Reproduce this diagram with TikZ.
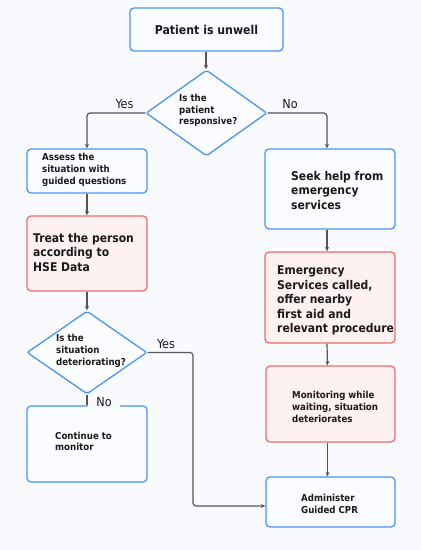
\documentclass[tikz,border=0pt]{standalone}
\usepackage{fontspec}
\setmainfont{DejaVu Sans Condensed}
\usetikzlibrary{shapes.geometric,arrows.meta}
\definecolor{bg}{HTML}{F8FAFD}
\definecolor{bblue}{HTML}{4C94F2}
\definecolor{fblue}{HTML}{FBFCFF}
\definecolor{bred}{HTML}{F26B6B}
\definecolor{fred}{HTML}{FDF1F1}
\definecolor{ln}{HTML}{555555}
\definecolor{tx}{HTML}{1A1A1A}
\tikzset{
  bluebox/.style={draw=bblue,fill=fblue,line width=1.3pt,rounded corners=4pt,inner sep=0pt},
  redbox/.style={draw=bred,fill=fred,line width=1.3pt,rounded corners=4pt,inner sep=0pt},
  decision/.style={diamond,draw=bblue,fill=fblue,line width=1.3pt,rounded corners=2pt,inner sep=0pt},
  big/.style={font=\bfseries\fontsize{12}{14.6}\selectfont,text=tx,align=left,inner sep=0pt,anchor=west},
  small/.style={font=\bfseries\fontsize{9.6}{11.8}\selectfont,text=tx,align=left,inner sep=0pt,anchor=west},
  yn/.style={font=\fontsize{12.5}{14}\selectfont,text=tx,inner sep=1pt},
  conn/.style={draw=ln,line width=1.2pt,rounded corners=3pt},
  arr/.style={conn,-{Stealth[length=4.5pt,width=4pt]}}
}
\begin{document}
\begin{tikzpicture}[x=1pt,y=-1pt]
\fill[bg] (0,0) rectangle (421,550);
\useasboundingbox (0,0) rectangle (421,550);
% boxes
\node[bluebox,minimum width=153pt,minimum height=43pt,font=\bfseries\fontsize{12.2}{14}\selectfont,text=tx] (b1) at (206.5,29.5) {Patient is unwell};
\node[decision,minimum width=121pt,minimum height=86pt] (d1) at (206.5,113) {};
\node[bluebox,minimum width=120pt,minimum height=44pt] (b2) at (87,171) {};
\node[redbox,minimum width=120pt,minimum height=75pt] (b3) at (87,253.5) {};
\node[decision,minimum width=120pt,minimum height=83pt] (d2) at (87,352.5) {};
\node[bluebox,minimum width=120pt,minimum height=76pt] (b4) at (87,444) {};
\node[bluebox,minimum width=130pt,minimum height=80pt] (r1) at (330,189) {};
\node[redbox,minimum width=130pt,minimum height=91pt] (r2) at (330,297.5) {};
\node[redbox,minimum width=129pt,minimum height=76pt] (r3) at (330.5,404) {};
\node[bluebox,minimum width=129pt,minimum height=50pt] (r4) at (330.5,502) {};
% texts
\node[small] (t1) at (179,110.5) {Is the\\patient\\responsive?};
\node[small] (t2) at (42,170) {Assess the\\situation with\\guided questions};
\node[big] (t3) at (33,252.5) {Treat the person\\according to\\HSE Data};
\node[small] (t4) at (56,351) {Is the\\situation\\deteriorating?};
\node[small] (t5) at (55,441.5) {Continue to\\monitor};
\node[big] (t6) at (291,190.5) {Seek help from\\emergency\\services};
\node[big] (t7) at (277,300.5) {Emergency\\Services called,\\offer nearby\\first aid and\\relevant procedure};
\node[small] (t8) at (292,407) {Monitoring while\\waiting, situation\\deteriorates};
\node[small] (t9) at (301,504) {Administer\\Guided CPR};
% connectors
\draw[arr] ([xshift=-0.5pt]b1.south) -- ([xshift=-0.5pt]d1.north);
\draw[arr] (d1.west) -| (b2.north);
\draw[arr] (d1.east) -| ([xshift=-3pt]r1.north);
\draw[arr] (b2.south) -- (b3.north);
\draw[arr] (b3.south) -- (d2.north);
\draw[conn] (d2.south) -- (b4.north);
\coordinate (yk) at (193,352.5);
\draw[arr] (d2.east) -- (yk) |- ([yshift=-4pt]r4.west);
\draw[arr] ([xshift=-3pt]r1.south) -- ([xshift=-3pt]r2.north);
\draw[arr] ([xshift=-3pt]r2.south) -- ([xshift=-3pt]r3.north);
\draw[arr] ([xshift=-3pt]r3.south) -- ([xshift=-3pt]r4.north);
% labels
\node[yn] (l1) at (124.5,104.5) {Yes};
\node[yn] (l2) at (290,104.5) {No};
\node[yn] (l3) at (166,344) {Yes};
\node[yn,fill=bg,inner xsep=8pt] (l4) at (104,402) {No};
\end{tikzpicture}
\end{document}
